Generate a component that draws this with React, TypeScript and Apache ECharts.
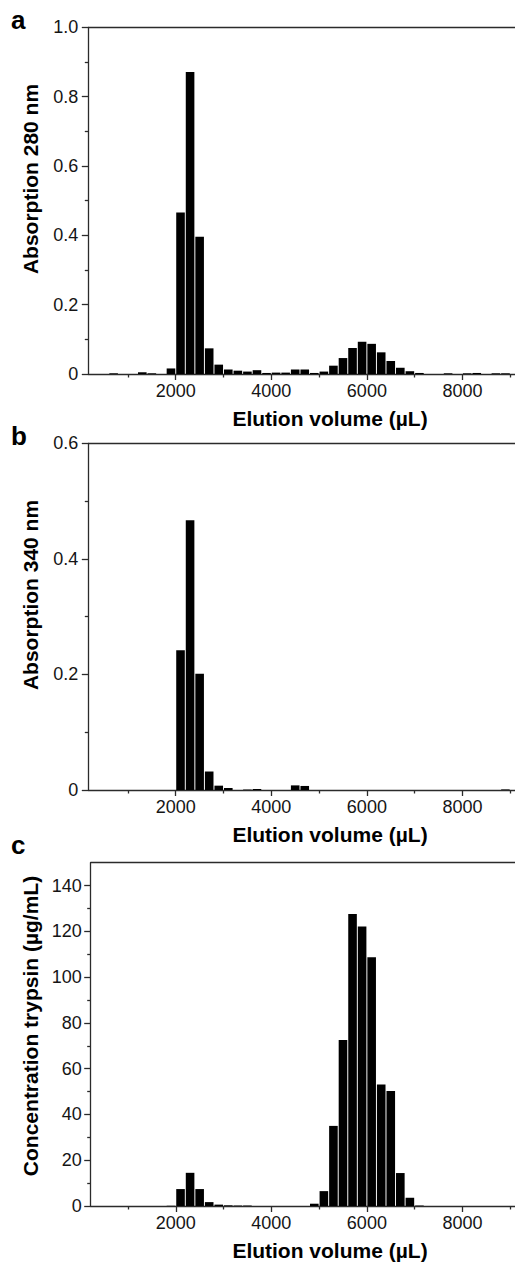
import React, { useEffect, useRef } from "react";
import * as echarts from "echarts";

// ---------- data (bin centres in µL, 200 µL fractions) ----------
const volumeA = [700, 1300, 1500, 1900, 2100, 2300, 2500, 2700, 2900, 3100, 3300, 3500, 3700, 3900, 4100, 4300, 4500, 4700, 4900, 5100, 5300, 5500, 5700, 5900, 6100, 6300, 6500, 6700, 6900, 7100, 7700, 8100, 8300, 8700, 8900];
const absorbance280 = [0.002, 0.005, 0.002, 0.016, 0.466, 0.871, 0.396, 0.074, 0.027, 0.013, 0.0096, 0.007, 0.011, 0.003, 0.004, 0.004, 0.013, 0.013, 0.003, 0.007, 0.024, 0.046, 0.075, 0.093, 0.087, 0.0625, 0.0375, 0.018, 0.008, 0.003, 0.002, 0.002, 0.003, 0.002, 0.002];

const volumeB = [2100, 2300, 2500, 2700, 2900, 3100, 3500, 3700, 4500, 4700, 8900];
const absorbance340 = [0.242, 0.467, 0.201, 0.032, 0.0075, 0.0035, 0.0008, 0.0017, 0.008, 0.007, 0.001];

const volumeC = [1900, 2100, 2300, 2500, 2700, 2900, 3100, 3300, 3500, 4900, 5100, 5300, 5500, 5700, 5900, 6100, 6300, 6500, 6700, 6900, 7100];
const trypsinConc = [0.1, 7.4, 14.5, 7.4, 1.7, 0.6, 0.3, 0.2, 0.2, 1.0, 6.5, 35.0, 72.5, 127.6, 122.1, 108.7, 53.1, 50.2, 14.4, 3.6, 0.2];

const xMajorTicks = [2000, 4000, 6000, 8000];
const xMinorTicks = [1000, 3000, 5000, 7000, 9000];
const yMajorA = [0, 0.2, 0.4, 0.6, 0.8, 1.0];
const yMinorA = [0.1, 0.3, 0.5, 0.7, 0.9];
const yMajorB = [0, 0.2, 0.4, 0.6];
const yMinorB = [0.1, 0.3, 0.5];
const yMajorC = [0, 20, 40, 60, 80, 100, 120, 140];
const yMinorC = [10, 30, 50, 70, 90, 110, 130];

const xTitle = "Elution volume (µL)";
const yTitles = ["Absorption 280 nm", "Absorption 340 nm", "Concentration trypsin (µg/mL)"];
const panelLetters = ["a", "b", "c"];

const FONT = '"Liberation Sans", Arial, sans-serif';
const AXIS_COLOR = "#2b2b2b";
const LABEL_COLOR = "#151515";

export default function App() {
  const ref = useRef<HTMLDivElement>(null);

  useEffect(() => {
    document.body.style.margin = "0";
    const chart = echarts.init(ref.current!, null, { renderer: "svg" });

    const panels = [
      { top: 27.3, height: 346.7, left: 88.3, xMin: 170, yMax: 1.0, major: yMajorA, minor: yMinorA, vols: volumeA, vals: absorbance280, fmt: (v: number) => (v === 0 ? "0" : v.toFixed(1)), labelMargin: 10, yTitleY: 179, titleY: 418, letterY: 20 },
      { top: 443.3, height: 346.7, left: 88.3, xMin: 170, yMax: 0.6, major: yMajorB, minor: yMinorB, vols: volumeB, vals: absorbance340, fmt: (v: number) => (v === 0 ? "0" : v.toFixed(1)), labelMargin: 10, yTitleY: 595, titleY: 834, letterY: 436 },
      { top: 862.7, height: 343.3, left: 90.7, xMin: 220, yMax: 150, major: yMajorC, minor: yMinorC, vols: volumeC, vals: trypsinConc, fmt: (v: number) => String(v), labelMargin: 9, yTitleY: 1026, titleY: 1250.5, letterY: 845 },
    ];

    const lineStyle = { color: AXIS_COLOR, width: 1.3 };
    const labelStyle = { fontFamily: FONT, fontSize: 18, color: LABEL_COLOR };

    const grid: any[] = [];
    const xAxis: any[] = [];
    const yAxis: any[] = [];
    const series: any[] = [];
    const graphic: any[] = [];

    panels.forEach((p, g) => {
      grid.push({ left: p.left, right: 0, top: p.top, height: p.height, containLabel: false, outerBoundsMode: "none" });
      xAxis.push({
        type: "value", gridIndex: g, position: "bottom", min: p.xMin, max: 9100,
        axisLine: { show: true, onZero: false, lineStyle },
        axisTick: { show: true, inside: false, length: 6, lineStyle, customValues: xMajorTicks },
        axisLabel: { show: true, margin: 8, customValues: xMajorTicks, formatter: (v: number) => String(v), ...labelStyle },
        splitLine: { show: false },
      });
      xAxis.push({
        type: "value", gridIndex: g, position: "bottom", min: p.xMin, max: 9100,
        axisLine: { show: false, onZero: false },
        axisTick: { show: true, inside: false, length: 3.5, lineStyle, customValues: xMinorTicks },
        axisLabel: { show: false },
        splitLine: { show: false },
      });
      xAxis.push({
        type: "value", gridIndex: g, position: "top", min: p.xMin, max: 9100,
        axisLine: { show: true, onZero: false, lineStyle },
        axisTick: { show: false }, axisLabel: { show: false }, splitLine: { show: false },
      });
      yAxis.push({
        type: "value", gridIndex: g, position: "left", min: 0, max: p.yMax,
        axisLine: { show: true, onZero: false, lineStyle },
        axisTick: { show: true, inside: false, length: 6.5, lineStyle, customValues: p.major },
        axisLabel: { show: true, margin: p.labelMargin, customValues: p.major, formatter: p.fmt, ...labelStyle },
        splitLine: { show: false },
      });
      yAxis.push({
        type: "value", gridIndex: g, position: "left", min: 0, max: p.yMax,
        axisLine: { show: false, onZero: false },
        axisTick: { show: true, inside: false, length: 3.5, lineStyle, customValues: p.minor },
        axisLabel: { show: false }, splitLine: { show: false },
      });
      series.push({
        type: "bar", xAxisIndex: g * 3, yAxisIndex: g * 2,
        data: p.vols.map((v, i) => [v, p.vals[i]]),
        barWidth: 8.6, itemStyle: { color: "#000" }, clip: true,
      });
      graphic.push({
        type: "text", x: 330, y: p.titleY,
        style: { text: xTitle, align: "center", verticalAlign: "middle", font: `bold 21px ${FONT}`, fill: "#000" },
      });
      graphic.push({
        type: "text", x: 30, y: p.yTitleY, rotation: Math.PI / 2,
        style: { text: yTitles[g], align: "center", verticalAlign: "middle", font: `bold 21px ${FONT}`, fill: "#000" },
      });
      graphic.push({
        type: "text", x: 11, y: p.letterY,
        style: { text: panelLetters[g], align: "left", verticalAlign: "middle", font: `bold 26px ${FONT}`, fill: "#000" },
      });
    });

    chart.setOption({ animation: false, backgroundColor: "#fff", grid, xAxis, yAxis, series, graphic });
    return () => chart.dispose();
  }, []);

  return <div ref={ref} style={{ width: 515, height: 1263 }} />;
}
